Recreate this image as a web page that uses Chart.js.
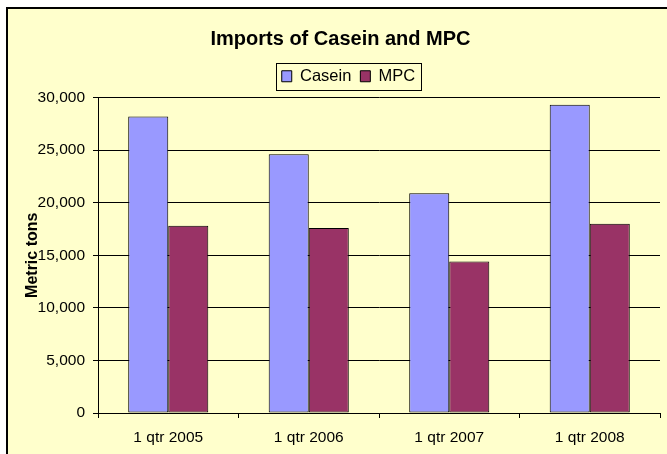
<!DOCTYPE html>
<html>
<head>
<meta charset="utf-8">
<script src="https://cdn.jsdelivr.net/npm/chart.js@4/dist/chart.umd.min.js"></script>
<style>
  html, body { margin: 0; padding: 0; background: #fff; }
  #wrap { width: 667px; height: 454px; }
</style>
</head>
<body>
<div id="wrap"><canvas id="importsChart" width="667" height="454"></canvas></div>
<script>
const quarters = ["1 qtr 2005", "1 qtr 2006", "1 qtr 2007", "1 qtr 2008"];
const caseinTons = [28200, 24600, 20900, 29300];
const mpcTons = [17800, 17600, 14400, 18000];
const yTicks = [0, 5000, 10000, 15000, 20000, 25000, 30000];

const FONT = "Arial, 'Liberation Sans', sans-serif";

// yellow panel with the dark frame on left/top, white margin outside
const panelBg = {
  id: "panelBg",
  beforeDraw(chart) {
    const ctx = chart.ctx;
    ctx.save();
    ctx.fillStyle = "#ffffff";
    ctx.fillRect(0, 0, chart.width, chart.height);
    ctx.fillStyle = "#FFFFCC";
    ctx.fillRect(7, 8, chart.width - 7, chart.height - 8);
    ctx.fillStyle = "#000";
    ctx.fillRect(6, 7, 2, chart.height - 7);
    ctx.fillRect(6, 7, chart.width - 6, 2);
    ctx.restore();
  }
};

// legend: a bit more room below it, and nudged right like the original
const legendTweak = {
  id: "legendTweak",
  beforeLayout(chart) {
    const lg = chart.legend;
    if (lg && !lg._patched) {
      const origFit = lg.fit;
      lg.fit = function () {
        origFit.call(this);
        this.height += 3;
      };
      lg._patched = true;
    }
  },
  afterLayout(chart) {
    const lg = chart.legend;
    if (!lg) return;
    lg.left += 8;
    lg.right += 8;
  }
};

// box around the legend like Excel does
const legendBox = {
  id: "legendBox",
  afterDraw(chart) {
    const boxes = chart.legend && chart.legend.legendHitBoxes;
    if (!boxes || !boxes.length) return;
    const first = boxes[0];
    const last = boxes[boxes.length - 1];
    const cy = first.top + first.height / 2;
    const ctx = chart.ctx;
    ctx.save();
    ctx.strokeStyle = "#000";
    ctx.lineWidth = 1;
    const x0 = Math.round(first.left - 6) + 0.5;
    const x1 = Math.round(last.left + last.width + 6) + 0.5;
    const y0 = Math.round(cy - 13.5) + 0.5;
    ctx.strokeRect(x0, y0, x1 - x0, 27);
    ctx.restore();
  }
};

const ctx = document.getElementById("importsChart").getContext("2d");

new Chart(ctx, {
  type: "bar",
  data: {
    labels: quarters,
    datasets: [
      {
        label: "Casein",
        data: caseinTons,
        backgroundColor: "#9999FF",
        borderColor: "#000",
        borderWidth: 1,
        borderSkipped: false,
        categoryPercentage: 0.57,
        barPercentage: 1.0
      },
      {
        label: "MPC",
        data: mpcTons,
        backgroundColor: "#993366",
        borderColor: "#000",
        borderWidth: 1,
        borderSkipped: false,
        categoryPercentage: 0.57,
        barPercentage: 1.0
      }
    ]
  },
  options: {
    responsive: false,
    animation: false,
    layout: { padding: { left: 21, right: 7, top: 0, bottom: 0 } },
    plugins: {
      title: {
        display: true,
        text: "Imports of Casein and MPC",
        color: "#000",
        font: { family: FONT, size: 20, weight: "bold" },
        padding: { top: 27, bottom: 8 }
      },
      legend: {
        display: true,
        position: "top",
        labels: {
          color: "#000",
          font: { family: FONT, size: 16.5 },
          boxWidth: 10,
          boxHeight: 11,
          padding: 9,
          generateLabels(chart) {
            return chart.data.datasets.map((ds, i) => ({
              text: ds.label,
              fillStyle: ds.backgroundColor,
              strokeStyle: "#000",
              lineWidth: 1,
              hidden: false,
              datasetIndex: i
            }));
          }
        }
      },
      tooltip: { enabled: false }
    },
    scales: {
      x: {
        grid: {
          display: true,
          offset: true,
          drawOnChartArea: false,
          drawTicks: true,
          tickLength: 5,
          color: "#000"
        },
        border: { display: true, color: "#000" },
        ticks: {
          color: "#000",
          font: { family: FONT, size: 15.5 },
          padding: 10,
          maxRotation: 0
        },
        afterFit(scale) { scale.height = 41; }
      },
      y: {
        min: 0,
        max: 30000,
        afterBuildTicks(scale) {
          scale.ticks = yTicks.map(v => ({ value: v }));
        },
        grid: {
          color: "#000",
          lineWidth: 1,
          drawTicks: true,
          tickLength: 5
        },
        border: { display: true, color: "#000" },
        ticks: {
          color: "#000",
          font: { family: FONT, size: 15.5 },
          padding: 8,
          callback: (v) => v.toLocaleString("en-US")
        },
        title: {
          display: true,
          text: "Metric tons",
          color: "#000",
          font: { family: FONT, size: 16, weight: "bold" },
          padding: { top: 2, bottom: 0 }
        },
        afterFit(scale) { scale.width = 98 - 21; }
      }
    }
  },
  plugins: [panelBg, legendTweak, legendBox]
});
</script>
</body>
</html>
